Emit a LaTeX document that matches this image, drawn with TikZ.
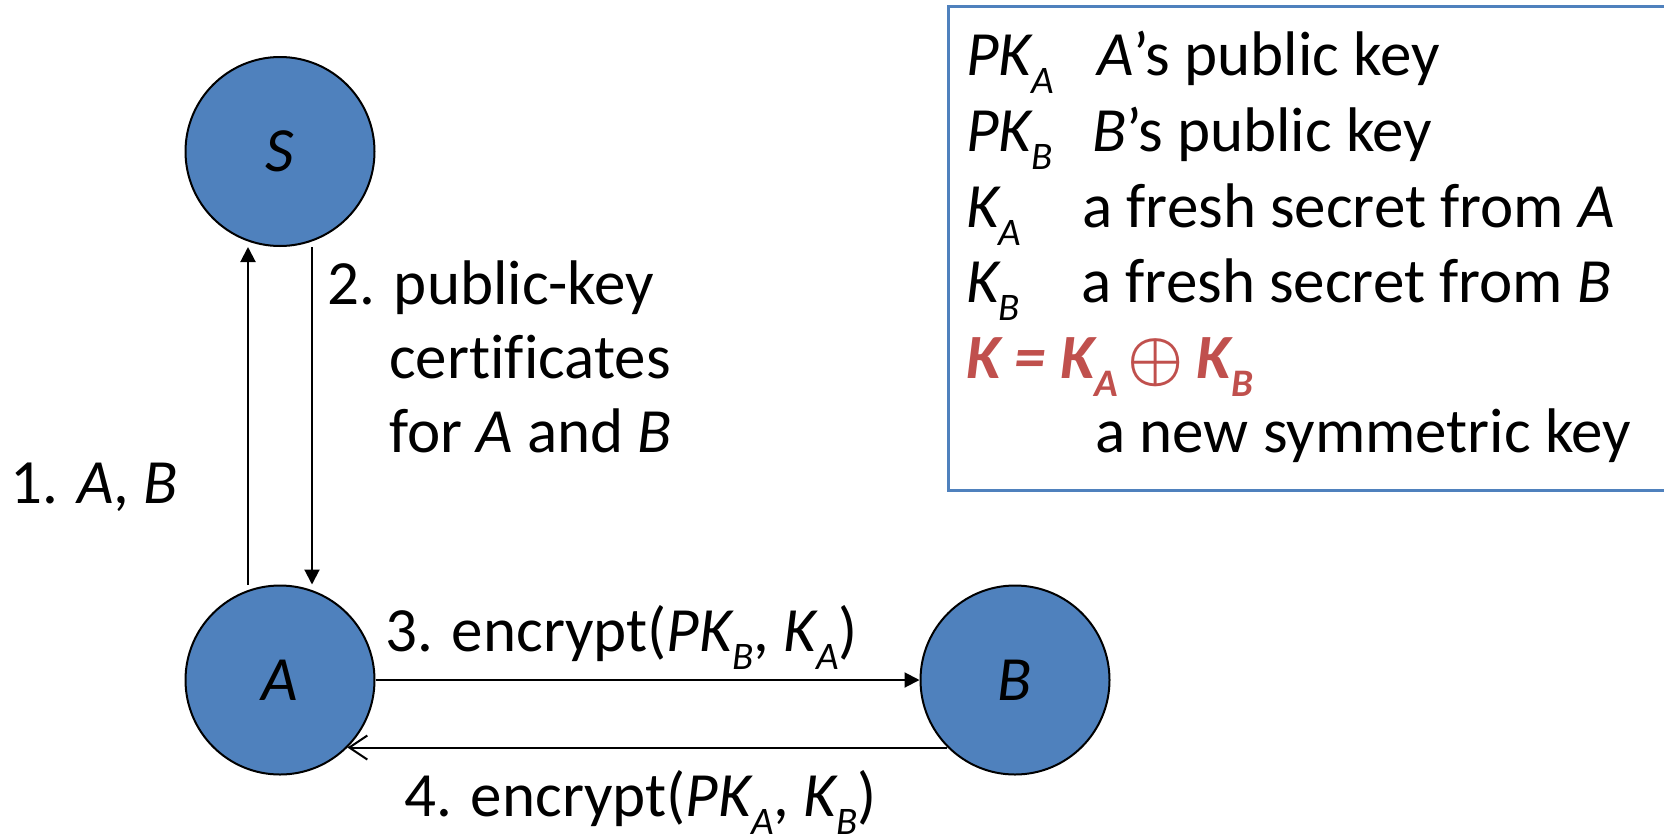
\documentclass[tikz,border=0pt]{standalone}
\usepackage{fontspec}
\usepackage{graphicx}
\setmainfont{Carlito}[Ligatures=NoCommon]
\usetikzlibrary{arrows.meta}
\definecolor{nodeblue}{HTML}{4F81BD}
\definecolor{keyred}{HTML}{C0504D}
% lowered, smaller index letter
\newcommand{\idx}[1]{\raisebox{-0.3em}{\fontsize{39}{39}\selectfont #1}}
% exclusive-or sign
\newcommand{\xorsign}{\scalebox{6.3}{\fontsize{10}{12}\selectfont\boldmath$\oplus$}}
\begin{document}
\begin{tikzpicture}[
  x=1pt, y=-1pt,
  every node/.style={font=\fontsize{63}{76}\selectfont, inner sep=0pt},
  party/.style={circle, draw=black, line width=2pt, fill=nodeblue,
                minimum size=189pt, font=\fontsize{63}{76}\selectfont\itshape},
  txt/.style={anchor=base west},
  msg/.style={line width=2pt, -{Triangle[length=15pt,width=15pt]}},
  reply/.style={line width=2pt, -{Straight Barb[length=18pt,width=24pt,line width=2pt]}},
  legendbox/.style={draw=nodeblue, line width=2.5pt, minimum width=760pt,
                    minimum height=484pt, anchor=north west}
]
\clip (0,0) rectangle (1664,833);

% parties
\node[party] (S) at (280,151.5) {S};
\node[party] (A) at (280,680) {A};
\node[party] (B) at (1015,680) {B};

% protocol messages
\draw[msg] ([xshift=-32pt]A.north) -- ([xshift=-32pt]S.south);
\draw[msg] ([xshift=32pt]S.south) -- ([xshift=32pt]A.north);
\draw[msg] (A.east) -- (B.west);
\draw[reply] (B.225) -- (A.-45);

% message labels
\node[txt] (m1) at (10,503) {1. \textit{A}, \textit{B}};
\node[txt] (m2a) at (327,304) {2. public-key};
\node[txt] (m2b) at (327,378) {\hphantom{2.\ }certificates};
\node[txt] (m2c) at (327,452) {\hphantom{2.\ }for \textit{A} and \textit{B}};
\node[txt] (m3) at (385,651) {3. encrypt(\textit{PK\idx{B}}, \textit{K\idx{A}})};
\node[txt] (m4) at (404,816) {4. encrypt(\textit{PK\idx{A}}, \textit{K\idx{B}})};

% legend
\node[legendbox] (legend) at (947,5) {};
\node[txt] (k1) at (966,75) {\textit{PK\idx{A}}};
\node[txt] (d1) at (1097,75) {\textit{A}’s public key};
\node[txt] (k2) at (966,151) {\textit{PK\idx{B}}};
\node[txt] (d2) at (1092,151) {\textit{B}’s public key};
\node[txt] (k3) at (966,227) {\textit{K\idx{A}}};
\node[txt] (d3) at (1082,227) {a fresh secret from \textit{A}};
\node[txt] (k4) at (966,302) {\textit{K\idx{B}}};
\node[txt] (d4) at (1081,302) {a fresh secret from \textit{B}};
\node[txt, text=keyred] (k5) at (966,378)
  {\bfseries\itshape K = K\idx{A}\hspace{9pt}\xorsign\hspace{13pt}K\idx{B}};
\node[txt] (d5) at (1095,452) {a new symmetric key};
\end{tikzpicture}
\end{document}
